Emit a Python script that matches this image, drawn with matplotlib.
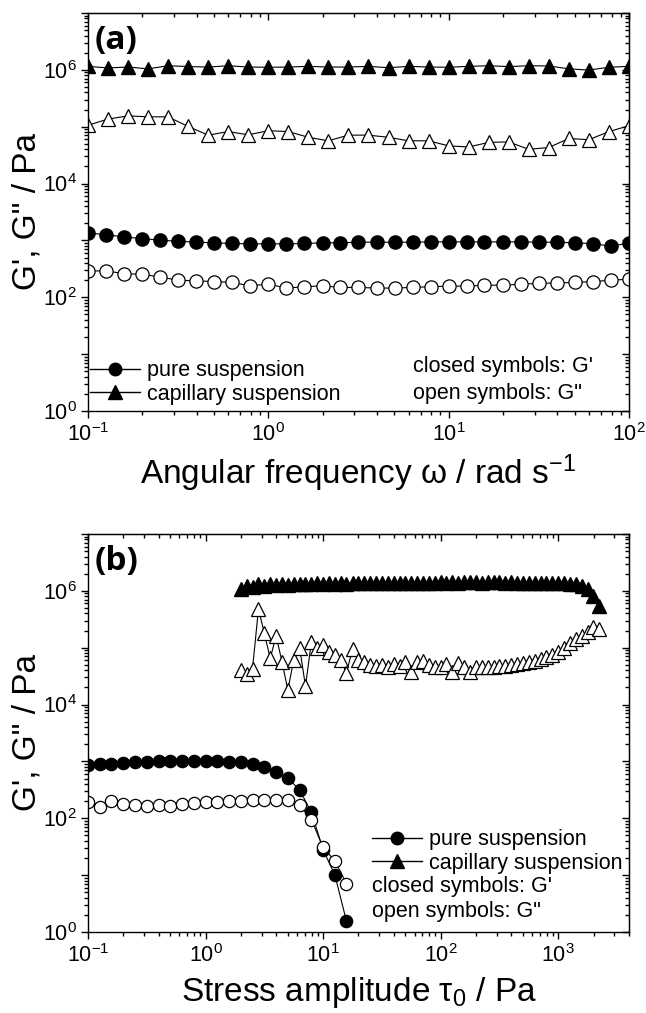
import numpy as np
import matplotlib
matplotlib.use('Agg')
import matplotlib.pyplot as plt
from matplotlib.ticker import LogLocator, FuncFormatter, NullFormatter
from matplotlib.lines import Line2D

plt.rcParams['font.family'] = ['Liberation Sans', 'DejaVu Sans']
plt.rcParams['mathtext.fontset'] = 'custom'
plt.rcParams['mathtext.rm'] = 'Liberation Sans'
plt.rcParams['mathtext.it'] = 'Liberation Sans:italic'
plt.rcParams['mathtext.bf'] = 'Liberation Sans:bold'

# ---- (a) frequency sweep ----
freq_pure = [0.1, 0.126, 0.158, 0.2, 0.251, 0.316, 0.398, 0.501, 0.631, 0.794,
             1.0, 1.26, 1.58, 2.0, 2.51, 3.16, 3.98, 5.01, 6.31, 7.94,
             10.0, 12.6, 15.8, 20.0, 25.1, 31.6, 39.8, 50.1, 63.1, 79.4, 100.0]
pure_Gp_a = [1350, 1262, 1150, 1077, 1007, 968, 930, 906, 882, 870,
             870, 870, 882, 906, 906, 930, 930, 930, 930, 942,
             942, 942, 942, 942, 942, 930, 930, 906, 880, 790, 900]
pure_Gpp_a = [289, 292, 260, 253, 228, 199, 194, 189, 182, 159,
              170, 145, 153, 159, 149, 149, 145, 145, 149, 153,
              157, 157, 163, 163, 170, 175, 179, 182, 189, 199, 208]

freq_cap = [0.1, 0.129, 0.167, 0.215, 0.278, 0.359, 0.464, 0.599, 0.774, 1.0,
            1.29, 1.67, 2.15, 2.78, 3.59, 4.64, 5.99, 7.74, 10.0, 12.9,
            16.7, 21.5, 27.8, 35.9, 46.4, 59.9, 77.4, 100.0]
cap_Gp_a = [1.15e6, 1.08e6, 1.12e6, 1.04e6, 1.18e6, 1.14e6, 1.12e6, 1.18e6, 1.12e6, 1.11e6,
            1.12e6, 1.15e6, 1.12e6, 1.12e6, 1.15e6, 1.09e6, 1.15e6, 1.12e6, 1.11e6, 1.15e6,
            1.18e6, 1.14e6, 1.18e6, 1.17e6, 1.04e6, 0.99e6, 1.11e6, 1.15e6]
cap_Gpp_a = [1.06e5, 1.36e5, 1.55e5, 1.49e5, 1.49e5, 1.01e5, 7.1e4, 8.2e4, 7.2e4, 8.5e4,
             8.2e4, 6.5e4, 5.65e4, 7.1e4, 7.1e4, 6.5e4, 5.65e4, 5.65e4, 4.6e4, 4.4e4,
             5.3e4, 5.4e4, 4.0e4, 4.3e4, 6.2e4, 5.9e4, 8.2e4, 1.04e5]

# ---- (b) stress amplitude sweep ----
stress_pure = [0.1, 0.126, 0.158, 0.2, 0.251, 0.316, 0.398, 0.501, 0.631, 0.794,
               1.0, 1.26, 1.58, 2.0, 2.51, 3.16, 3.98, 5.01, 6.31, 7.94,
               10.0, 12.6, 15.8]
pure_Gp_b = [851, 885, 910, 935, 960, 986, 999, 1013, 1013, 1013,
             1013, 999, 986, 960, 910, 795, 650, 510, 315, 128,
             28, 10.0, 1.55]
pure_Gpp_b = [193, 160, 200, 176, 172, 165, 172, 162, 176, 186,
              190, 193, 199, 203, 207, 212, 212, 207, 170, 95,
              30.6, 17.8, 7.1]

stress_cap = [2.00, 2.24, 2.51, 2.82, 3.16, 3.55, 3.98, 4.47, 5.01, 5.62,
              6.31, 7.08, 7.94, 8.91, 10.0, 11.2, 12.6, 14.1, 15.8, 17.8,
              20.0, 22.4, 25.1, 28.2, 31.6, 35.5, 39.8, 44.7, 50.1, 56.2,
              63.1, 70.8, 79.4, 89.1, 100, 112, 126, 141, 158, 178,
              200, 224, 251, 282, 316, 355, 398, 447, 501, 562,
              631, 708, 794, 891, 1000, 1122, 1259, 1413, 1585, 1778,
              1995, 2239]
cap_Gp_b = [1.07e6, 1.22e6, 1.15e6, 1.32e6, 1.22e6, 1.30e6, 1.25e6, 1.33e6, 1.28e6, 1.33e6,
            1.30e6, 1.34e6, 1.31e6, 1.35e6, 1.32e6, 1.35e6, 1.33e6, 1.36e6, 1.34e6, 1.37e6,
            1.35e6, 1.37e6, 1.38e6, 1.37e6, 1.39e6, 1.38e6, 1.39e6, 1.38e6, 1.40e6, 1.39e6,
            1.40e6, 1.39e6, 1.40e6, 1.40e6, 1.41e6, 1.40e6, 1.41e6, 1.40e6, 1.41e6, 1.41e6,
            1.41e6, 1.40e6, 1.41e6, 1.41e6, 1.41e6, 1.40e6, 1.41e6, 1.40e6, 1.40e6, 1.40e6,
            1.39e6, 1.39e6, 1.38e6, 1.38e6, 1.37e6, 1.36e6, 1.34e6, 1.30e6, 1.22e6, 1.08e6,
            0.82e6, 0.55e6]
cap_Gpp_b = [4.1e4, 3.5e4, 4.3e4, 4.8e5, 1.8e5, 6.5e4, 1.6e5, 5.7e4, 1.8e4, 6.0e4,
             1.0e5, 2.1e4, 1.25e5, 1.0e5, 1.1e5, 8.5e4, 7.5e4, 6.0e4, 3.6e4, 9.5e4,
             6.0e4, 5.5e4, 5.0e4, 4.8e4, 5.0e4, 4.5e4, 5.2e4, 4.7e4, 5.5e4, 3.8e4,
             5.5e4, 5.8e4, 5.0e4, 4.6e4, 4.5e4, 5.2e4, 3.7e4, 5.3e4, 4.6e4, 3.7e4,
             4.6e4, 4.5e4, 4.5e4, 4.6e4, 4.7e4, 4.8e4, 4.9e4, 5.1e4, 5.3e4, 5.6e4,
             5.9e4, 6.3e4, 6.8e4, 7.5e4, 8.5e4, 1.0e5, 1.2e5, 1.4e5, 1.6e5, 1.9e5,
             2.3e5, 2.1e5]

legend_labels = ['pure suspension', 'capillary suspension']
note_labels = ["closed symbols: G'", 'open symbols: G"']


def every_decade(v, pos):
    return r'$\mathdefault{10^{%d}}$' % int(round(np.log10(v)))


def even_decades(v, pos):
    e = int(round(np.log10(v)))
    if e % 2:
        return ''
    return r'$\mathdefault{10^{%d}}$' % e


def style_axes(ax, xlim):
    ax.set_xscale('log')
    ax.set_yscale('log')
    ax.set_xlim(*xlim)
    ax.set_ylim(1, 1e7)
    for axis in (ax.xaxis, ax.yaxis):
        axis.set_major_locator(LogLocator(base=10, numticks=20))
        axis.set_minor_locator(LogLocator(base=10, subs=np.arange(2, 10), numticks=20))
        axis.set_minor_formatter(NullFormatter())
    ax.xaxis.set_major_formatter(FuncFormatter(every_decade))
    ax.yaxis.set_major_formatter(FuncFormatter(even_decades))
    ax.tick_params(which='both', direction='out', labelsize=15.5, width=1)
    ax.tick_params(which='major', length=5)
    ax.tick_params(which='minor', length=3)
    ax.tick_params(axis='x', which='major', pad=4)
    ax.tick_params(axis='y', which='major', pad=3)
    for sp in ax.spines.values():
        sp.set_linewidth(1.0)

    top = ax.secondary_xaxis('top')
    top.xaxis.set_major_locator(LogLocator(base=10, numticks=20))
    top.xaxis.set_minor_locator(LogLocator(base=10, subs=np.arange(2, 10), numticks=20))
    top.tick_params(which='both', direction='in', width=1, labeltop=False)
    top.tick_params(which='major', length=5)
    top.tick_params(which='minor', length=3)

    right = ax.secondary_yaxis('right')
    right.yaxis.set_major_locator(LogLocator(base=10, numticks=20))
    right.yaxis.set_minor_locator(LogLocator(base=10, subs=np.arange(2, 10), numticks=20))
    right.tick_params(which='both', direction='in', width=1, labelright=False)
    right.tick_params(which='major', length=5)
    right.tick_params(which='minor', length=3)

    ax.set_ylabel('G\', G" / Pa', fontsize=24)
    ax.yaxis.set_label_coords(-0.084, 0.5)


def add_legend(ax, x0, y0):
    handles = [Line2D([], [], color='k', lw=1, marker='o', ms=9),
               Line2D([], [], color='k', lw=1, marker='^', ms=10)]
    ax.legend(handles, legend_labels, loc='lower left', bbox_to_anchor=(x0, y0),
              frameon=False, fontsize=15.5, handlelength=2.3, handletextpad=0.35,
              labelspacing=0.12, borderpad=0, borderaxespad=0)


fig = plt.figure(figsize=(6.46, 10.13), dpi=100)
ax_a = fig.add_axes([0.1362, 0.5943, 0.8375, 0.3929])
ax_b = fig.add_axes([0.1362, 0.0800, 0.8375, 0.3929])

line_kw = dict(color='k', lw=0.8)
open_kw = dict(mfc='white', mec='k', mew=0.9)

# panel (a)
ax_a.plot(freq_cap, cap_Gp_a, marker='^', ms=10.5, mfc='k', mec='k', **line_kw)
ax_a.plot(freq_cap, cap_Gpp_a, marker='^', ms=10.5, **open_kw, **line_kw)
ax_a.plot(freq_pure, pure_Gp_a, marker='o', ms=9.5, mfc='k', mec='k', **line_kw)
ax_a.plot(freq_pure, pure_Gpp_a, marker='o', ms=9.5, **open_kw, **line_kw)
style_axes(ax_a, (0.1, 100))
ax_a.set_xlabel(r'Angular frequency ω / rad s$^{\mathregular{-1}}$', fontsize=24)
ax_a.xaxis.set_label_coords(0.5, -0.105)
ax_a.text(0.013, 0.972, '(a)', transform=ax_a.transAxes, ha='left', va='top',
          fontsize=24, fontweight='bold', family=['Open Sans', 'DejaVu Sans'])
add_legend(ax_a, 0.004, 0.015)
ax_a.text(0.601, 0.1106, note_labels[0], transform=ax_a.transAxes, va='center', fontsize=15.5)
ax_a.text(0.601, 0.045, note_labels[1], transform=ax_a.transAxes, va='center', fontsize=15.5)

# panel (b)
ax_b.plot(stress_cap, cap_Gp_b, marker='^', ms=9.5, mfc='k', mec='k', **line_kw)
ax_b.plot(stress_cap, cap_Gpp_b, marker='^', ms=9.5, **open_kw, **line_kw)
ax_b.plot(stress_pure, pure_Gp_b, marker='o', ms=8.8, mfc='k', mec='k', **line_kw)
ax_b.plot(stress_pure, pure_Gpp_b, marker='o', ms=8.8, **open_kw, **line_kw)
style_axes(ax_b, (0.1, 4000))
ax_b.set_xlabel(r'Stress amplitude $\mathregular{\tau_0}$ / Pa', fontsize=24)
ax_b.xaxis.set_label_coords(0.5, -0.108)
ax_b.text(0.013, 0.972, '(b)', transform=ax_b.transAxes, ha='left', va='top',
          fontsize=24, fontweight='bold', family=['Open Sans', 'DejaVu Sans'])
add_legend(ax_b, 0.525, 0.146)
ax_b.text(0.525, 0.1131, note_labels[0], transform=ax_b.transAxes, va='center', fontsize=15.5)
ax_b.text(0.525, 0.0503, note_labels[1], transform=ax_b.transAxes, va='center', fontsize=15.5)

fig.savefig('out.png', dpi=100)
